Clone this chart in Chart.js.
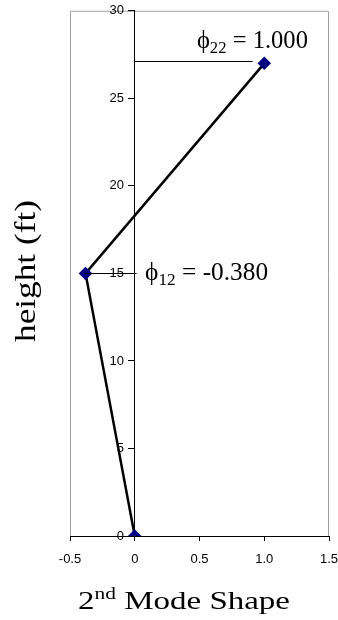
<!DOCTYPE html>
<html>
<head>
<meta charset="utf-8">
<script src="https://cdn.jsdelivr.net/npm/chart.js@4.4.0/dist/chart.umd.min.js"></script>
<style>
  html, body { margin: 0; padding: 0; background: #fff; }
  #wrap { width: 338px; height: 620px; }
</style>
</head>
<body>
<div id="wrap"><canvas id="cvs_mode" width="338" height="620"></canvas></div>
<script>
// 2nd mode shape of a two storey frame
var modeShape = [0, -0.38, 1.0];
var heights = [0, 15, 27];
var xTicks = [-0.5, 0, 0.5, 1, 1.5];
var yTicks = [0, 5, 10, 15, 20, 25, 30];

var serif = '"Liberation Serif", "DejaVu Serif", "Times New Roman", serif';
var sans = '"Liberation Sans", Arial, sans-serif';

var points = modeShape.map(function (v, i) { return { x: v, y: heights[i] }; });

function partSize(p, size) {
    return p.sub ? size * 0.68 : (p.sup ? size * 0.65 : size);
}

function richWidth(ctx, parts, size) {
    var w = 0;
    parts.forEach(function (p) {
        ctx.font = partSize(p, size) + 'px ' + serif;
        w += ctx.measureText(p.t).width;
    });
    return w;
}

// text with sub/superscripts, squeezed or stretched to width w (if given)
function richText(ctx, parts, x, y, size, w) {
    var natural = richWidth(ctx, parts, size);
    var sx = w ? w / natural : 1;
    ctx.save();
    ctx.translate(x, y);
    ctx.scale(sx, 1);
    var cx = 0;
    parts.forEach(function (p) {
        var dy = p.sub ? size * 0.18 : (p.sup ? -size * 0.38 : 0);
        ctx.font = partSize(p, size) + 'px ' + serif;
        ctx.fillText(p.t, cx, dy);
        cx += ctx.measureText(p.t).width;
    });
    ctx.restore();
}

var decor = {
    id: 'decor',
    beforeDraw: function (chart) {
        var a = chart.chartArea, ctx = chart.ctx;
        ctx.save();
        ctx.strokeStyle = '#a0a0a0';
        ctx.lineWidth = 1;
        ctx.beginPath();
        ctx.moveTo(a.left + 0.5, a.bottom);
        ctx.lineTo(a.left + 0.5, a.top + 0.5);
        ctx.lineTo(a.right - 0.5, a.top + 0.5);
        ctx.lineTo(a.right - 0.5, a.bottom);
        ctx.stroke();
        ctx.restore();
    },
    afterDatasetsDraw: function (chart) {
        var ctx = chart.ctx, xs = chart.scales.x, ys = chart.scales.y;
        ctx.save();
        ctx.strokeStyle = '#000';
        ctx.fillStyle = '#000';
        ctx.lineWidth = 1;
        ctx.textBaseline = 'alphabetic';
        ctx.textAlign = 'left';

        // leader lines
        var y27 = ys.getPixelForValue(heights[2]);
        var l27 = Math.round(y27 - 2) + 0.5;
        ctx.beginPath();
        ctx.moveTo(xs.getPixelForValue(0), l27);
        ctx.lineTo(xs.getPixelForValue(0.91), l27);
        ctx.stroke();
        var y15 = ys.getPixelForValue(heights[1]);
        var l15 = Math.round(y15) + 0.5;
        ctx.beginPath();
        ctx.moveTo(xs.getPixelForValue(modeShape[1]), l15);
        ctx.lineTo(xs.getPixelForValue(0.015), l15);
        ctx.stroke();

        richText(ctx, [{ t: '\u03d5' }, { t: '22', sub: true }, { t: ' = ' + modeShape[2].toFixed(3) }],
            xs.getPixelForValue(0.48), y27 - 15, 25, 111);
        richText(ctx, [{ t: '\u03d5' }, { t: '12', sub: true }, { t: ' = ' + modeShape[1].toFixed(3) }],
            xs.getPixelForValue(0.08), y15 + 7, 25, 123);

        // axis titles
        var xt = [{ t: '2' }, { t: 'nd', sup: true }, { t: ' Mode Shape' }];
        richText(ctx, xt, 78, 609, 26, 212);

        ctx.translate(35, 271);
        ctx.rotate(-Math.PI / 2);
        ctx.font = '30px ' + serif;
        var tw = ctx.measureText('height (ft)').width;
        ctx.scale(142 / tw, 1);
        ctx.textAlign = 'center';
        ctx.fillText('height (ft)', 0, 0);
        ctx.restore();
    }
};

var config = {
    type: 'scatter',
    data: {
        datasets: [{
            data: points,
            showLine: true,
            borderColor: '#000',
            borderWidth: 2.5,
            pointStyle: 'rectRot',
            pointRadius: 5,
            pointBackgroundColor: '#000080',
            pointBorderColor: '#000080'
        }]
    },
    options: {
        responsive: false,
        animation: false,
        layout: { padding: { left: 70, right: 9, top: 4, bottom: 0 } },
        plugins: { legend: { display: false }, tooltip: { enabled: false } },
        scales: {
            x: {
                type: 'linear',
                min: xTicks[0],
                max: xTicks[xTicks.length - 1],
                afterBuildTicks: function (s) { s.ticks = xTicks.map(function (v) { return { value: v }; }); },
                afterFit: function (s) { s.height = 84; s.paddingLeft = 0; s.paddingRight = 0; },
                grid: { drawOnChartArea: false, tickLength: 5, color: '#000' },
                border: { color: '#000', width: 1 },
                ticks: { color: '#000', font: { family: sans, size: 13 }, padding: 11, maxRotation: 0 }
            },
            y: {
                type: 'linear',
                position: { x: 0 },
                min: yTicks[0],
                max: yTicks[yTicks.length - 1],
                afterBuildTicks: function (s) { s.ticks = yTicks.map(function (v) { return { value: v }; }); },
                grid: { drawOnChartArea: false, tickLength: 6, color: '#000' },
                border: { color: '#000', width: 1 },
                ticks: {
                    color: '#000',
                    font: { family: sans, size: 13 },
                    // labels sit left of the centred axis, trailing spaces keep them off the tick marks
                    callback: function (v) { return v + '   '; }
                }
            }
        }
    },
    plugins: [decor]
};

window.onload = function () {
    window.myChart = new Chart(document.getElementById('cvs_mode'), config);
};
</script>
</body>
</html>
